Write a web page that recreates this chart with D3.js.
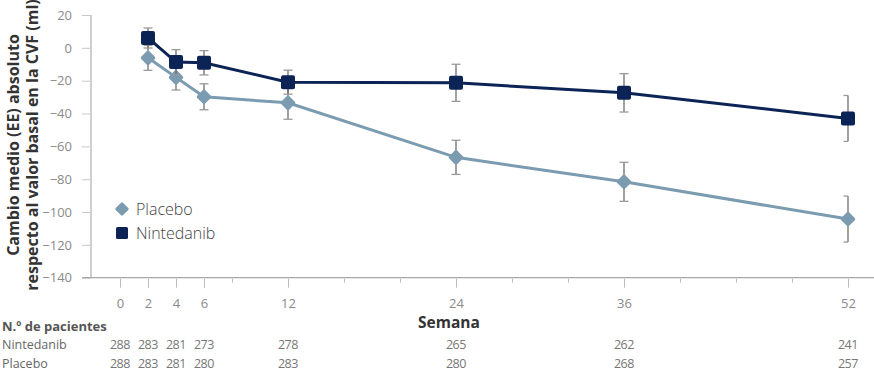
<!DOCTYPE html>
<html>
<head>
<meta charset="utf-8">
<script src="https://cdn.jsdelivr.net/npm/d3@7"></script>
<style>
  body { margin: 0; background: #fff; }
  svg text { font-family: "Open Sans", "Noto Sans", sans-serif; }
</style>
</head>
<body>
<script>
//------------ DATA ----------------------
const weeks = [2, 4, 6, 12, 24, 36, 52];
const nintedanib = [6, -8.7, -9.1, -20.9, -21.3, -27.4, -43];
const nintedanibSE = [6.1, 7.6, 7.4, 7.3, 11.3, 11.7, 14];
const placebo = [-6.1, -18, -29.8, -33.5, -66.7, -81.6, -104.3];
const placeboSE = [7.6, 7.7, 7.9, 10, 10.4, 11.9, 14];

const tableWeeks = [0, 2, 4, 6, 12, 24, 36, 52];
const nNintedanib = [288, 283, 281, 273, 278, 265, 262, 241];
const nPlacebo = [288, 283, 281, 280, 283, 280, 268, 257];

const xTicks = [0, 2, 4, 6, 8, 12, 16, 20, 24, 28, 32, 36, 40, 44, 48, 52];
const xLabels = [0, 2, 4, 6, 12, 24, 36, 52];
const yTicks = [20, 0, -20, -40, -60, -80, -100, -120, -140];
//----------------------------------------

const width = 874, height = 372;
const navy = "#0c2356", steel = "#7b9bb0";

var svg = d3.select("body").append("svg")
    .attr("width", width)
    .attr("height", height);

var x = d3.scaleLinear().domain([0, 52]).range([120, 848]);
var y = d3.scaleLinear().domain([-140, 20]).range([277.7, 15]);

//------------ AXES ----------------------
var yAxis = svg.append("g")
    .attr("transform", "translate(91,0)")
    .call(d3.axisLeft(y).tickValues(yTicks).tickSize(9).tickPadding(10));
yAxis.select(".domain").remove();
yAxis.selectAll(".tick line").attr("stroke", "#c8c8c8");
yAxis.selectAll(".tick text")
    .attr("fill", "#8a8a8a")
    .style("font-size", "13px");

svg.append("line")
    .attr("x1", 91).attr("x2", 91)
    .attr("y1", y(20)).attr("y2", y(-140))
    .attr("stroke", "#cfcfcf").attr("stroke-width", 2);

var xAxis = svg.append("g")
    .attr("transform", "translate(0," + y(-140) + ")")
    .call(d3.axisBottom(x).tickValues(xTicks)
        .tickFormat(d => xLabels.includes(d) ? d : "")
        .tickSize(0).tickPadding(21));
xAxis.select(".domain").remove();
xAxis.selectAll(".tick text")
    .attr("fill", "#8a8a8a")
    .style("font-size", "13px");
xAxis.selectAll(".tick").append("line")
    .attr("y1", 1)
    .attr("y2", d => xLabels.includes(d) ? 10 : 5)
    .attr("stroke", "#bdbdbd");

svg.append("line")
    .attr("x1", 82).attr("x2", width)
    .attr("y1", y(-140)).attr("y2", y(-140))
    .attr("stroke", "#a8a8a8").attr("stroke-width", 1.2);

//------------ TITLES ----------------------
var yTitle = svg.append("text")
    .attr("transform", "translate(0,145) rotate(-90)")
    .attr("text-anchor", "middle")
    .attr("fill", "#333")
    .style("font-size", "16px")
    .style("font-weight", "bold");
yTitle.append("tspan").attr("x", 0).attr("y", 19).text("Cambio medio (EE) absoluto");
yTitle.append("tspan").attr("x", 0).attr("y", 38).text("respecto al valor basal en la CVF (ml)");

svg.append("text")
    .attr("x", 449).attr("y", 328)
    .attr("text-anchor", "middle")
    .attr("fill", "#333")
    .style("font-size", "15.5px")
    .style("font-weight", "bold")
    .text("Semana");

//------------ SERIES ----------------------
function drawSeries(values, errors, color, shape) {
    var pts = weeks.map((w, i) => ({ w: w, v: values[i], se: errors[i], last: i === weeks.length - 1 }));
    var g = svg.append("g");

    // error bars (last one only has caps on the left)
    var eb = g.selectAll(".eb").data(pts).enter().append("g");
    eb.append("line")
        .attr("x1", d => x(d.w)).attr("x2", d => x(d.w))
        .attr("y1", d => y(d.v + d.se)).attr("y2", d => y(d.v - d.se))
        .attr("stroke", "#6e6e6e").attr("stroke-width", 1.3);
    [1, -1].forEach(function(s) {
        eb.append("line")
            .attr("x1", d => x(d.w) - 4.5)
            .attr("x2", d => d.last ? x(d.w) : x(d.w) + 4.5)
            .attr("y1", d => y(d.v + s * d.se)).attr("y2", d => y(d.v + s * d.se))
            .attr("stroke", "#9a9a9a").attr("stroke-width", 1.3);
    });

    g.append("path")
        .datum(pts)
        .attr("fill", "none")
        .attr("stroke", color)
        .attr("stroke-width", 3)
        .attr("d", d3.line().x(d => x(d.w)).y(d => y(d.v)));

    g.selectAll(".mk").data(pts).enter().append("rect")
        .attr("x", -7).attr("y", -7)
        .attr("width", 14).attr("height", 14)
        .attr("rx", 2)
        .attr("fill", color)
        .attr("transform", d => "translate(" + x(d.w) + "," + y(d.v) + ")" + (shape === "diamond" ? " rotate(45) scale(0.8)" : ""));
}

drawSeries(placebo, placeboSE, steel, "diamond");
drawSeries(nintedanib, nintedanibSE, navy, "square");

//------------ LEGEND ----------------------
var legend = [
    { name: "Placebo", color: steel, shape: "diamond", y: 209 },
    { name: "Nintedanib", color: navy, shape: "square", y: 233 }
];
var lg = svg.selectAll(".lg").data(legend).enter().append("g")
    .attr("transform", d => "translate(122," + d.y + ")");
lg.append("rect")
    .attr("x", -6).attr("y", -6).attr("width", 12).attr("height", 12).attr("rx", 1.5)
    .attr("fill", d => d.color)
    .attr("transform", d => d.shape === "diamond" ? "rotate(45) scale(0.85)" : null);
lg.append("text")
    .attr("x", 14).attr("y", 6)
    .attr("fill", "#444")
    .style("font-size", "16px")
    .style("font-weight", 300)
    .text(d => d.name);

//------------ PATIENT TABLE ----------------------
svg.append("text")
    .attr("x", 2).attr("y", 331)
    .attr("fill", "#555")
    .style("font-size", "13px")
    .style("font-weight", "bold")
    .text("N.º de pacientes");

var rows = [
    { name: "Nintedanib", n: nNintedanib, y: 349 },
    { name: "Placebo", n: nPlacebo, y: 368 }
];
rows.forEach(function(r) {
    svg.append("text")
        .attr("x", 2).attr("y", r.y)
        .attr("fill", "#666")
        .style("font-size", "12.5px")
        .text(r.name);
    svg.selectAll(null).data(tableWeeks).enter().append("text")
        .attr("x", d => x(d)).attr("y", r.y)
        .attr("text-anchor", "middle")
        .attr("fill", "#777")
        .style("font-size", "12.5px")
        .style("letter-spacing", "-0.4px")
        .text((d, i) => r.n[i]);
});
</script>
</body>
</html>
